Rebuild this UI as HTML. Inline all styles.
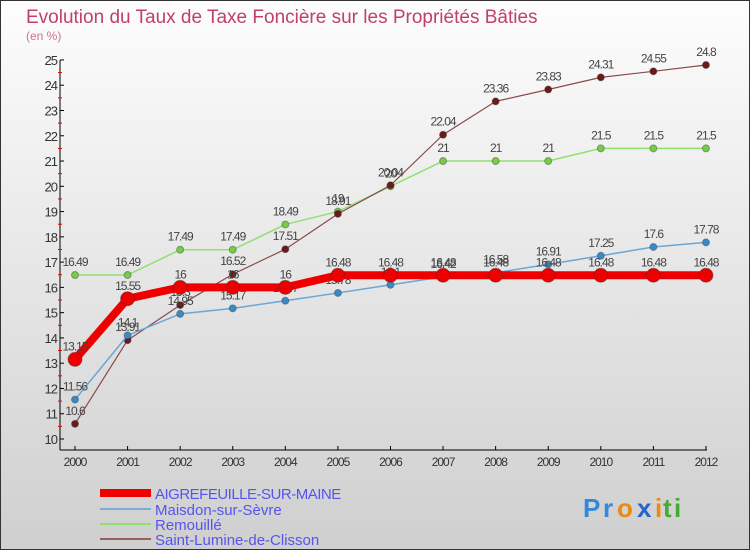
<!DOCTYPE html>
<html><head><meta charset="utf-8"><style>
body{margin:0}svg{display:block;font-family:"Liberation Sans",sans-serif}
</style></head><body>
<svg id="c" width="750" height="550">
<defs><linearGradient id="bg" x1="0" y1="0" x2="0" y2="1"><stop offset="0" stop-color="#fdfdfd"/><stop offset="1" stop-color="#cfcfcf"/></linearGradient></defs>
<rect x="0.5" y="0.5" width="749" height="549" fill="url(#bg)" stroke="#333"/>
<text x="26" y="23" font-size="19" fill="#c0406a">Evolution du Taux de Taxe Foncière sur les Propriétés Bâties</text>
<text x="26" y="40" font-size="12" fill="#d07090">(en %)</text>
<g id="axes"></g><g id="series"></g>
<g font-size="15" fill="#5555ee">
<rect x="100" y="489" width="51" height="8" fill="#e00"/>
<text x="155" y="499" letter-spacing="-0.5">AIGREFEUILLE-SUR-MAINE</text>
<line x1="100" x2="151" y1="509" y2="509" stroke="#7aaed0" stroke-width="2"/>
<text x="155" y="515">Maisdon-sur-Sèvre</text>
<line x1="100" x2="151" y1="524" y2="524" stroke="#90e070" stroke-width="2"/>
<text x="155" y="530">Remouillé</text>
<line x1="100" x2="151" y1="539" y2="539" stroke="#9a6060" stroke-width="2"/>
<text x="155" y="545">Saint-Lumine-de-Clisson</text>
</g>
<g font-size="26" font-weight="bold">
<text x="583" y="517" fill="#3388dd">P</text><text x="603" y="517" fill="#3388dd">r</text><text x="617" y="517" fill="#ee8811">o</text><text x="637" y="517" fill="#2266cc">x</text><text x="655" y="517" fill="#ee8811">i</text><text x="663" y="517" fill="#44aa33">t</text><text x="674" y="517" fill="#44aa33">i</text>
</g>
</svg>
<script>
const years=[2000,2001,2002,2003,2004,2005,2006,2007,2008,2009,2010,2011,2012];
const aigre=[13.15,15.55,16,16,16,16.48,16.48,16.48,16.48,16.48,16.48,16.48,16.48];
const maisdon=[11.56,14.1,14.95,15.17,15.47,15.78,16.1,16.42,16.58,16.91,17.25,17.6,17.78];
const remouille=[16.49,16.49,17.49,17.49,18.49,19,20,21,21,21,21.5,21.5,21.5];
const lumine=[10.6,13.91,15.3,16.52,17.51,18.91,20.04,22.04,23.36,23.83,24.31,24.55,24.8];
const yTicks=[10,11,12,13,14,15,16,17,18,19,20,21,22,23,24,25];
const NS="http://www.w3.org/2000/svg";
const X=i=>75+i*52.58, Y=v=>439-(v-10)*25.27;
function mk(t,a,p){const e=document.createElementNS(NS,t);for(const k in a)e.setAttribute(k,a[k]);p.appendChild(e);return e;}
const ax=document.getElementById('axes');
const yl=mk('line',{x1:60,x2:60,y1:60,y2:450,stroke:'#000'},ax);


const xl=mk('line',{x1:60,x2:707,y1:450,y2:450,stroke:'#000'},ax);


yTicks.forEach(v=>{
 mk('line',{x1:60,x2:64,y1:Y(v),y2:Y(v),stroke:'#000'},ax);
 if(v<25) mk('line',{x1:58,x2:62,y1:Y(v+0.5),y2:Y(v+0.5),stroke:'#e00'},ax);
 const t=mk('text',{x:57,y:Y(v)+5,'text-anchor':'end','font-size':13,fill:'#333','letter-spacing':'-1'},ax);
 t.textContent=v;
 
 
});
years.forEach((y,i)=>{
 mk('line',{x1:X(i),x2:X(i),y1:446,y2:450,stroke:'#000'},ax);
 const t=mk('text',{x:X(i),y:466,'text-anchor':'middle','font-size':12,fill:'#333','letter-spacing':'-1'},ax);
 t.textContent=y;
 
 
});
const sg=document.getElementById('series');
function series(vals,color,w,r,name,stroke){
 const g=mk('g',{},sg);
 
 
 const pl=mk('polyline',{points:vals.map((v,i)=>X(i)+','+Y(v)).join(' '),fill:'none',stroke:color,'stroke-width':w,'stroke-linejoin':'round'},g);
 
 
 vals.forEach((v,i)=>{
  const c=mk('circle',{cx:X(i),cy:Y(v),r:r,fill:stroke,stroke:'#333','stroke-opacity':0.4},g);
  
  
  const t=mk('text',{x:X(i),y:Y(v)-9,'text-anchor':'middle','font-size':12,fill:'#444','letter-spacing':'-1'},g);
  t.textContent=v;
  
  
 });
}
series(remouille,'#90e070',1.5,3.5,'remouille','#77cc44');
series(lumine,'#8a4a4a',1.2,3.5,'saint-lumine','#6a1a1a');
series(maisdon,'#6aa6d6',1.5,3.5,'maisdon','#3a8ac6');
series(aigre,'#ee0000',8,7,'aigrefeuille','#ee0000');
</script>
</body></html>
